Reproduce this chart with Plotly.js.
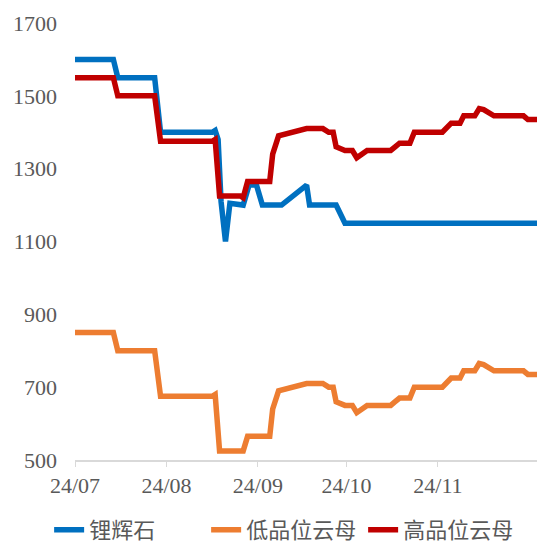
<!DOCTYPE html>
<html>
<head>
<meta charset="utf-8">
<script src="https://cdn.plot.ly/plotly-3.0.1.min.js"></script>
<style>
html, body { margin: 0; padding: 0; background: #ffffff; }
#chart { width: 537px; height: 543px; }
</style>
</head>
<body>
<div id="chart"></div>
<script>
// Series names
const seriesNames = ['锂辉石', '低品位云母', '高品位云母'];

// 锂辉石 (spodumene) price points
const spodumeneDates = [
  '2024-07-01', '2024-07-14', '2024-07-15 12:00', '2024-07-28', '2024-07-30',
  '2024-08-16 12:00', '2024-08-17 12:00', '2024-08-18 12:00', '2024-08-19 12:00',
  '2024-08-21', '2024-08-22 12:00', '2024-08-26', '2024-08-27', '2024-08-29',
  '2024-08-31 12:00', '2024-09-02 12:00', '2024-09-09', '2024-09-17 12:00',
  '2024-09-18 12:00', '2024-09-27 12:00', '2024-09-30 12:00', '2024-12-05'
];
const spodumenePrice = [
  1600, 1600, 1550, 1550, 1400,
  1400, 1405, 1380, 1210,
  1100, 1205, 1200, 1200, 1255,
  1255, 1200, 1200, 1255,
  1200, 1200, 1150, 1150
];

// 云母 (lepidolite) price points, shared dates
const micaDates = [
  '2024-07-01', '2024-07-14', '2024-07-15 12:00', '2024-07-28', '2024-07-30',
  '2024-08-16 12:00', '2024-08-17 12:00', '2024-08-19', '2024-08-26', '2024-08-27',
  '2024-08-28 12:00', '2024-09-05', '2024-09-06', '2024-09-08', '2024-09-17 12:00',
  '2024-09-23', '2024-09-25', '2024-09-26 12:00', '2024-09-27 12:00', '2024-09-30 12:00',
  '2024-10-03', '2024-10-04 12:00', '2024-10-08', '2024-10-16', '2024-10-17 12:00',
  '2024-10-19', '2024-10-22 12:00', '2024-10-24', '2024-11-02 12:00', '2024-11-05 12:00',
  '2024-11-08 12:00', '2024-11-09 18:00', '2024-11-13 12:00', '2024-11-15', '2024-11-16 12:00',
  '2024-11-20', '2024-11-30', '2024-12-01 12:00', '2024-12-05'
];
const lowMicaPrice = [
  850, 850, 800, 800, 675,
  675, 680, 525, 525, 525,
  565, 565, 640, 690, 710,
  710, 700, 700, 660, 650,
  650, 630, 650, 650, 660,
  670, 670, 700, 700, 725,
  725, 745, 745, 765, 762,
  745, 745, 735, 735
];
const highMicaPrice = [
  1550, 1550, 1500, 1500, 1375,
  1375, 1380, 1225, 1225, 1220,
  1265, 1265, 1340, 1390, 1410,
  1410, 1400, 1400, 1360, 1350,
  1350, 1330, 1350, 1350, 1360,
  1370, 1370, 1400, 1400, 1425,
  1425, 1445, 1445, 1465, 1462,
  1445, 1445, 1435, 1435
];

// Axis ticks
const yTickValues = [500, 700, 900, 1100, 1300, 1500, 1700];
const xTickDates = ['2024-07-01', '2024-08-01', '2024-09-01', '2024-10-01', '2024-11-01'];
const xTickLabels = ['24/07', '24/08', '24/09', '24/10', '24/11'];
const xRange = ['2024-07-01', '2024-12-04 14:00'];

const colors = ['#0070C0', '#ED7D31', '#C00000'];
const tickFont = { family: 'Liberation Serif, Times New Roman, serif', size: 22, color: '#595959' };

const traces = [
  { x: spodumeneDates, y: spodumenePrice, name: seriesNames[0] },
  { x: micaDates, y: lowMicaPrice, name: seriesNames[1] },
  { x: micaDates, y: highMicaPrice, name: seriesNames[2] }
].map((t, i) => Object.assign(t, {
  type: 'scatter',
  mode: 'lines',
  line: { color: colors[i], width: 5.5, shape: 'linear' },
  hoverinfo: 'skip'
}));

const layout = {
  width: 537,
  height: 543,
  margin: { l: 75, r: 0, t: 23, b: 83, autoexpand: false },
  paper_bgcolor: '#ffffff',
  plot_bgcolor: '#ffffff',
  showlegend: true,
  legend: {
    orientation: 'h',
    x: -0.056,
    xanchor: 'left',
    y: -0.208,
    yanchor: 'bottom',
    font: { family: 'Noto Sans CJK SC, sans-serif', size: 22, color: '#595959' },
    itemwidth: 30,
    entrywidth: 112,
    entrywidthmode: 'pixels',
    bgcolor: 'rgba(0,0,0,0)'
  },
  xaxis: {
    type: 'date',
    range: xRange,
    tickmode: 'array',
    tickvals: xTickDates,
    ticktext: xTickLabels,
    ticks: 'outside',
    ticklen: 5,
    tickwidth: 1,
    tickcolor: '#d9d9d9',
    showline: true,
    linecolor: '#d9d9d9',
    linewidth: 2,
    showgrid: false,
    zeroline: false,
    tickfont: tickFont,
    fixedrange: true
  },
  yaxis: {
    range: [500, 1700],
    tickmode: 'array',
    tickvals: yTickValues,
    ticktext: yTickValues.map(String),
    ticks: '',
    showline: false,
    showgrid: false,
    zeroline: false,
    tickfont: tickFont,
    ticklabelstandoff: 17,
    fixedrange: true
  }
};

Plotly.newPlot('chart', traces, layout, { displayModeBar: false, staticPlot: true });
</script>
</body>
</html>
